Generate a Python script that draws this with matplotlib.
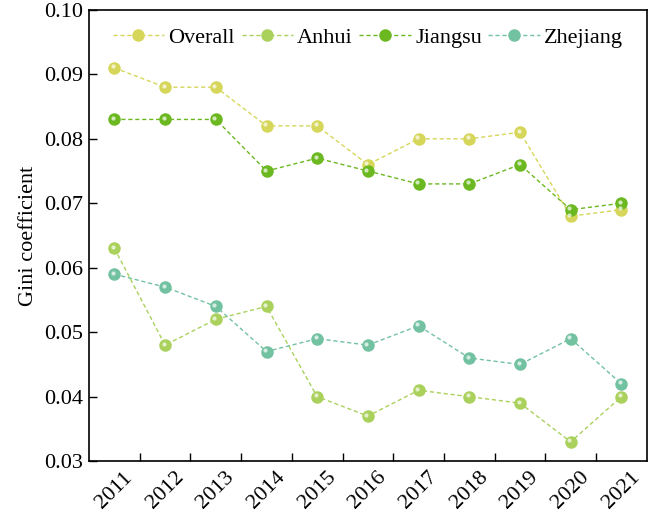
import matplotlib
matplotlib.use("Agg")
import matplotlib.pyplot as plt
import matplotlib.transforms as mtransforms
import numpy as np

years = ["2011", "2012", "2013", "2014", "2015", "2016", "2017", "2018", "2019", "2020", "2021"]
overall = [0.091, 0.088, 0.088, 0.082, 0.082, 0.076, 0.080, 0.080, 0.081, 0.068, 0.069]
anhui = [0.063, 0.048, 0.052, 0.054, 0.040, 0.037, 0.041, 0.040, 0.039, 0.033, 0.040]
jiangsu = [0.083, 0.083, 0.083, 0.075, 0.077, 0.075, 0.073, 0.073, 0.076, 0.069, 0.070]
zhejiang = [0.059, 0.057, 0.054, 0.047, 0.049, 0.048, 0.051, 0.046, 0.045, 0.049, 0.042]

series = [("Overall", overall, "#d6d65a"), ("Anhui", anhui, "#a9d15c"),
          ("Jiangsu", jiangsu, "#6cb821"), ("Zhejiang", zhejiang, "#72c2a2")]

plt.rcParams["font.family"] = "serif"
plt.rcParams["font.serif"] = ["Liberation Serif", "FreeSerif", "DejaVu Serif"]
plt.rcParams["font.size"] = 16

fig = plt.figure(figsize=(6.5, 5.17), dpi=100)
ax = fig.add_axes([0.137, 0.108, 0.858, 0.873])
x = np.arange(len(years))

# small white glint up-left of every marker, for the glossy look
glint = ax.transData + mtransforms.ScaledTranslation(-1.5 / 100, 1.5 / 100, fig.dpi_scale_trans)
handles = []
for name, vals, col in series:
    h, = ax.plot(x, vals, ls=(0, (3, 2)), lw=1.0, color=col, marker="o", ms=9,
                 mfc=col, mec=col, mew=0, label=name, zorder=3)
    ax.plot(x, vals, ls="none", marker="o", ms=3, mfc="white", mec="none",
            alpha=0.7, transform=glint, zorder=4)
    handles.append(h)

ax.set_xlim(-0.5, len(years) - 0.5)
ax.set_ylim(0.03, 0.10)
yt = np.arange(0.03, 0.1001, 0.01)
ax.set_yticks(yt)
ax.set_yticklabels([f"{v:.2f}" for v in yt])
ax.set_xticks(x)
ax.set_xticklabels(years, rotation=45, ha="center")
ax.set_xticks(x[:-1] + 0.5, minor=True)
ax.tick_params(axis="x", which="major", length=0, pad=5)
ax.tick_params(axis="x", which="minor", direction="in", length=6, width=1)
ax.tick_params(axis="y", direction="in", length=6, width=1, pad=4)
for s in ax.spines.values():
    s.set_linewidth(1.2)
ax.set_ylabel("Gini coefficient", labelpad=5)

ax.legend(handles=handles, loc="upper center", ncol=4, frameon=False,
          bbox_to_anchor=(0.5, 1.0), handlelength=2.3, handletextpad=0.2,
          columnspacing=0.3, borderaxespad=0.4, fontsize=16)

fig.savefig("out.png", dpi=100)
